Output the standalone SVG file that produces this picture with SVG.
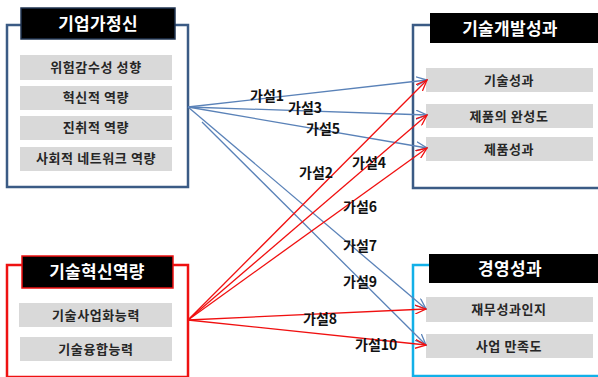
<svg xmlns="http://www.w3.org/2000/svg" width="598" height="377" viewBox="0 0 598 377">
<defs>
<style>
.ttl{font-family:"Noto Sans CJK KR","Liberation Sans",sans-serif;font-weight:bold;font-size:17px;fill:#fff;text-anchor:middle;letter-spacing:0.3px}
.itm{fill:#d9d9d9}
.it{font-family:"Noto Sans CJK KR","Liberation Sans",sans-serif;font-weight:bold;font-size:13px;fill:#262626;text-anchor:middle;letter-spacing:0.6px}
.lb{font-family:"Noto Sans CJK KR","Liberation Sans",sans-serif;font-weight:bold;font-size:14px;fill:#111}
.bl{stroke:#5a82b8;stroke-width:1.3;fill:none;marker-end:url(#ab)}
.rd{stroke:#f01010;stroke-width:1.3;fill:none;marker-end:url(#ar)}
</style>
<marker id="ab" viewBox="0 0 12 10" refX="11" refY="5" markerWidth="12" markerHeight="10" markerUnits="userSpaceOnUse" orient="auto">
<path d="M0,0.5 L11,5 L0,9.5" fill="none" stroke="#5a82b8" stroke-width="1.3"/>
</marker>
<marker id="ar" viewBox="0 0 12 10" refX="11" refY="5" markerWidth="12" markerHeight="10" markerUnits="userSpaceOnUse" orient="auto">
<path d="M0,0.5 L11,5 L0,9.5" fill="none" stroke="#f01010" stroke-width="1.3"/>
</marker>
</defs>
<rect width="598" height="377" fill="#fff"/>

<g id="entrepreneurship">
<rect x="7" y="25" width="181" height="162" fill="#fff" stroke="#3b5b85" stroke-width="2.5"/>
<rect x="21" y="8" width="154" height="31" fill="#000" stroke="#1f3350" stroke-width="1.5"/>
<text class="ttl" x="98" y="30">기업가정신</text>
<rect class="itm" x="20" y="55" width="152" height="25"/>
<text class="it" x="96" y="72">위험감수성 성향</text>
<rect class="itm" x="20" y="86" width="152" height="24"/>
<text class="it" x="96" y="102">혁신적 역량</text>
<rect class="itm" x="20" y="116" width="152" height="24"/>
<text class="it" x="96" y="132">진취적 역량</text>
<rect class="itm" x="20" y="147" width="152" height="24"/>
<text class="it" x="96" y="163">사회적 네트워크 역량</text>
</g>

<g id="tech-innovation">
<rect x="7" y="265" width="181" height="112" fill="#fff" stroke="#ee1111" stroke-width="2.5"/>
<rect x="22" y="256" width="151" height="32" fill="#000" stroke="#ee1111" stroke-width="1.5"/>
<text class="ttl" x="97" y="278">기술혁신역량</text>
<rect class="itm" x="19" y="303" width="153" height="24"/>
<text class="it" x="96" y="320">기술사업화능력</text>
<rect class="itm" x="20" y="337" width="152" height="24"/>
<text class="it" x="96" y="354">기술융합능력</text>
</g>

<g id="tech-dev-performance">
<rect x="413" y="25" width="200" height="163" fill="#fff" stroke="#3b5b85" stroke-width="2.5"/>
<rect x="430" y="13" width="168" height="30" fill="#000"/>
<text class="ttl" x="510" y="35">기술개발성과</text>
<rect class="itm" x="426" y="68" width="167" height="24"/>
<text class="it" x="509" y="85">기술성과</text>
<rect class="itm" x="426" y="104" width="167" height="24"/>
<text class="it" x="509" y="121">제품의 완성도</text>
<rect class="itm" x="426" y="137" width="167" height="24"/>
<text class="it" x="509" y="154">제품성과</text>
</g>

<g id="management-performance">
<rect x="413" y="265" width="200" height="111" fill="#fff" stroke="#12b0e8" stroke-width="2.5"/>
<rect x="429" y="254" width="169" height="29" fill="#000"/>
<text class="ttl" x="510" y="275">경영성과</text>
<rect class="itm" x="426" y="297" width="167" height="25"/>
<text class="it" x="509" y="314">재무성과인지</text>
<rect class="itm" x="426" y="334" width="167" height="24"/>
<text class="it" x="509" y="351">사업 만족도</text>
</g>

<g id="connectors">
<line class="bl" x1="188" y1="107" x2="427" y2="80"/>
<line class="bl" x1="188" y1="107" x2="427" y2="115"/>
<line class="bl" x1="188" y1="107" x2="427" y2="148"/>
<line class="bl" x1="188" y1="107" x2="426" y2="309"/>
<line class="bl" x1="202" y1="122" x2="426" y2="345"/>
<line class="rd" x1="188" y1="320" x2="427" y2="80"/>
<line class="rd" x1="188" y1="320" x2="427" y2="115"/>
<line class="rd" x1="188" y1="320" x2="427" y2="148"/>
<line class="rd" x1="188" y1="320" x2="426" y2="309"/>
<line class="rd" x1="188" y1="320" x2="426" y2="345"/>
</g>

<g id="labels">
<text class="lb" x="250" y="101">가설1</text>
<text class="lb" x="288" y="113">가설3</text>
<text class="lb" x="306" y="134">가설5</text>
<text class="lb" x="299" y="178">가설2</text>
<text class="lb" x="352" y="168">가설4</text>
<text class="lb" x="343" y="212">가설6</text>
<text class="lb" x="343" y="251">가설7</text>
<text class="lb" x="343" y="287">가설9</text>
<text class="lb" x="303" y="324">가설8</text>
<text class="lb" x="355" y="350">가설10</text>
</g>
</svg>
